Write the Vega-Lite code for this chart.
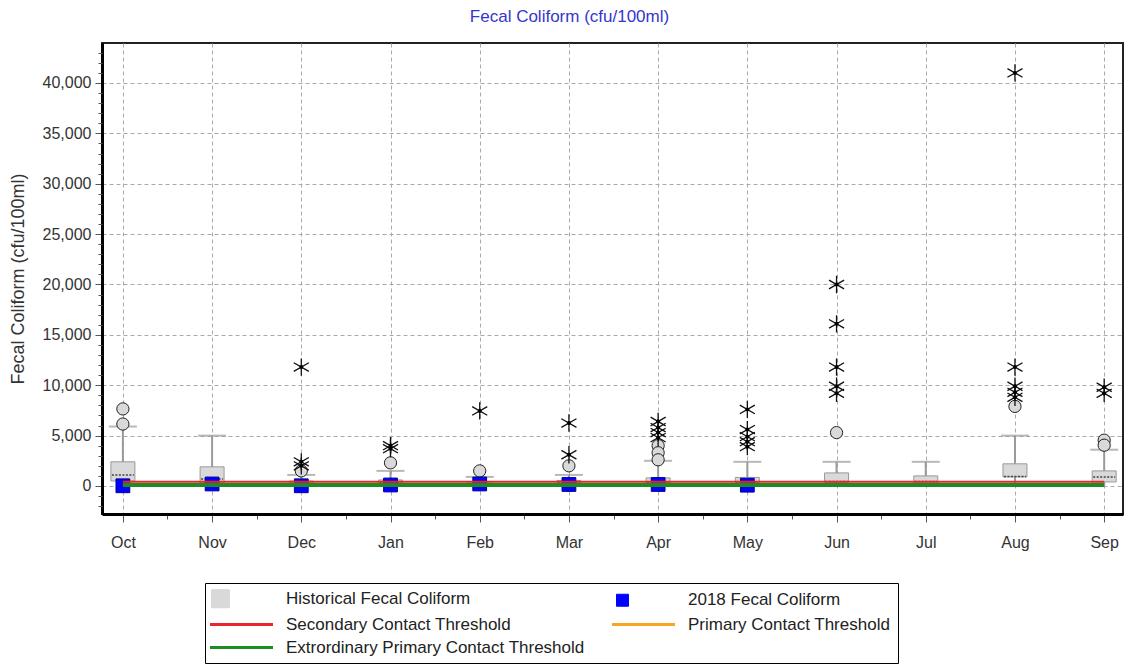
{
  "$schema": "https://vega.github.io/schema/vega-lite/v6.json",
  "width": 1021,
  "height": 471,
  "autosize": {"type": "none"},
  "padding": {"left": 102, "top": 43, "right": 14, "bottom": 152},
  "background": "white",
  "title": {"text": "Fecal Coliform (cfu/100ml)", "color": "#3535cf", "font": "Liberation Sans", "fontSize": 17, "fontWeight": "normal", "anchor": "middle", "dx": -43, "offset": 17},
  "config": {"view": {"stroke": "#222", "strokeWidth": 2}, "font": "Liberation Sans"},
  "resolve": {"axis": {"y": "independent"}},
  "datasets": {
    "boxes": [
      {"i": 0, "month": "Oct", "lw": 0, "q1": 500, "med": 1100, "q3": 2400, "uw": 5900},
      {"i": 1, "month": "Nov", "lw": 0, "q1": 300, "med": 700, "q3": 1900, "uw": 5000},
      {"i": 2, "month": "Dec", "lw": 0, "q1": 100, "med": 250, "q3": 500, "uw": 1100},
      {"i": 3, "month": "Jan", "lw": 0, "q1": 100, "med": 300, "q3": 600, "uw": 1500},
      {"i": 4, "month": "Feb", "lw": 0, "q1": 100, "med": 250, "q3": 450, "uw": 900},
      {"i": 5, "month": "Mar", "lw": 0, "q1": 100, "med": 300, "q3": 550, "uw": 1100},
      {"i": 6, "month": "Apr", "lw": 0, "q1": 150, "med": 350, "q3": 800, "uw": 2500},
      {"i": 7, "month": "May", "lw": 0, "q1": 150, "med": 350, "q3": 850, "uw": 2400},
      {"i": 8, "month": "Jun", "lw": 0, "q1": 350, "med": 450, "q3": 1300, "uw": 2400},
      {"i": 9, "month": "Jul", "lw": 0, "q1": 300, "med": 450, "q3": 1000, "uw": 2400},
      {"i": 10, "month": "Aug", "lw": 0, "q1": 900, "med": 950, "q3": 2200, "uw": 5000},
      {"i": 11, "month": "Sep", "lw": 0, "q1": 400, "med": 900, "q3": 1500, "uw": 3600}
    ],
    "mild": [
      {"i": 0, "value": 7650}, {"i": 0, "value": 6150},
      {"i": 2, "value": 1500},
      {"i": 3, "value": 2300},
      {"i": 4, "value": 1500},
      {"i": 5, "value": 2000},
      {"i": 6, "value": 4000}, {"i": 6, "value": 3300}, {"i": 6, "value": 2600},
      {"i": 8, "value": 5300},
      {"i": 10, "value": 7900},
      {"i": 11, "value": 4550}, {"i": 11, "value": 4050}
    ],
    "extreme": [
      {"i": 2, "value": 11800}, {"i": 2, "value": 2400}, {"i": 2, "value": 2000},
      {"i": 3, "value": 4000}, {"i": 3, "value": 3700},
      {"i": 4, "value": 7450},
      {"i": 5, "value": 6250}, {"i": 5, "value": 3100},
      {"i": 6, "value": 6400}, {"i": 6, "value": 5800}, {"i": 6, "value": 5300}, {"i": 6, "value": 4800},
      {"i": 7, "value": 7600}, {"i": 7, "value": 5600}, {"i": 7, "value": 4900}, {"i": 7, "value": 4400}, {"i": 7, "value": 3900},
      {"i": 8, "value": 20000}, {"i": 8, "value": 16100}, {"i": 8, "value": 11800}, {"i": 8, "value": 9900}, {"i": 8, "value": 9200},
      {"i": 10, "value": 41000}, {"i": 10, "value": 11800}, {"i": 10, "value": 9900}, {"i": 10, "value": 9300}, {"i": 10, "value": 8800},
      {"i": 11, "value": 9800}, {"i": 11, "value": 9200}
    ],
    "current": [
      {"i": 0, "value": 20}, {"i": 1, "value": 200}, {"i": 2, "value": 20}, {"i": 3, "value": 100},
      {"i": 4, "value": 200}, {"i": 5, "value": 150}, {"i": 6, "value": 150}, {"i": 7, "value": 80}
    ],
    "thresholds": [
      {"name": "Primary Contact Threshold", "value": 200, "start": 0, "end": 11},
      {"name": "Extrordinary Primary Contact Threshold", "value": 100, "start": 0, "end": 11},
      {"name": "Secondary Contact Threshold", "value": 420, "start": 0, "end": 11}
    ]
  },
  "layer": [
    {
      "data": {"name": "boxes"},
      "mark": {"type": "rule", "color": "#9a9a9a", "strokeWidth": 2},
      "encoding": {
        "x": {"field": "i", "type": "quantitative", "scale": {"domain": [-0.178, 11.155], "nice": false, "zero": false},
          "axis": {
            "values": [0,0.25,0.5,0.75,1,1.25,1.5,1.75,2,2.25,2.5,2.75,3,3.25,3.5,3.75,4,4.25,4.5,4.75,5,5.25,5.5,5.75,6,6.25,6.5,6.75,7,7.25,7.5,7.75,8,8.25,8.5,8.75,9,9.25,9.5,9.75,10,10.25,10.5,10.75,11],
            "labelExpr": "datum.value % 1 === 0 ? ['Oct','Nov','Dec','Jan','Feb','Mar','Apr','May','Jun','Jul','Aug','Sep'][datum.value] : ''",
            "labelOverlap": false, "labelFlush": false, "labelBound": false,
            "title": null,
            "domainColor": "#000", "domainWidth": 3,
            "tickColor": "#555",
            "tickSize": {"condition": {"test": "datum.value % 1 === 0", "value": 8}, "value": 5},
            "labelPadding": 12, "labelFontSize": 16, "labelColor": "#333", "labelFont": "Liberation Sans",
            "grid": true, "gridColor": "#aaaaaa", "gridDash": [4, 3],
            "gridOpacity": {"condition": {"test": "datum.value % 1 === 0", "value": 1}, "value": 0}
          }},
        "y": {"field": "lw", "type": "quantitative", "scale": {"domain": [-2780, 43970], "nice": false, "zero": false},
          "axis": {
            "orient": "left",
            "values": [0,5000,10000,15000,20000,25000,30000,35000,40000],
            "format": ",d",
            "labelOverlap": false, "labelFlush": false, "labelBound": false,
            "title": "Fecal Coliform (cfu/100ml)",
            "titleFont": "Liberation Sans", "titleFontSize": 18, "titleFontWeight": "normal", "titleColor": "#333",
            "titleX": -84, "titleY": 235.5, "titleAngle": -90, "titleAlign": "center", "titleBaseline": "middle",
            "domainColor": "#000", "domainWidth": 3,
            "tickColor": "#555", "tickSize": 7,
            "labelPadding": 4, "labelFontSize": 16, "labelColor": "#333", "labelFont": "Liberation Sans",
            "grid": true, "gridColor": "#aaaaaa", "gridDash": [4, 3]
          }},
        "y2": {"field": "uw"}
      }
    },
    {
      "data": {"name": "boxes"},
      "mark": {"type": "tick", "orient": "horizontal", "color": "#9a9a9a", "size": 28, "thickness": 2},
      "encoding": {
        "x": {"field": "i", "type": "quantitative"},
        "y": {"field": "uw", "type": "quantitative",
          "axis": {
            "orient": "left",
            "values": [-2000,-1000,1000,2000,3000,4000,6000,7000,8000,9000,11000,12000,13000,14000,16000,17000,18000,19000,21000,22000,23000,24000,26000,27000,28000,29000,31000,32000,33000,34000,36000,37000,38000,39000,41000,42000,43000],
            "labels": false, "grid": false, "domain": false, "title": null,
            "tickColor": "#555", "tickSize": 4
          }}
      }
    },
    {
      "data": {"name": "boxes"},
      "mark": {"type": "bar", "orient": "vertical", "width": 24, "fill": "#d9d9d9", "stroke": "#999999", "strokeWidth": 1},
      "encoding": {
        "x": {"field": "i", "type": "quantitative"},
        "y": {"field": "q1", "type": "quantitative", "axis": null},
        "y2": {"field": "q3"}
      }
    },
    {
      "data": {"name": "boxes"},
      "mark": {"type": "point", "shape": "M-1,0H1", "size": 484, "filled": false, "stroke": "#444", "strokeWidth": 1.5, "strokeDash": [2, 1.5], "opacity": 1},
      "encoding": {
        "x": {"field": "i", "type": "quantitative"},
        "y": {"field": "med", "type": "quantitative", "axis": null}
      }
    },
    {
      "data": {"name": "mild"},
      "mark": {"type": "point", "shape": "circle", "size": 150, "filled": true, "fill": "#d9d9d9", "stroke": "#222", "strokeWidth": 1, "opacity": 1},
      "encoding": {
        "x": {"field": "i", "type": "quantitative"},
        "y": {"field": "value", "type": "quantitative", "axis": null}
      }
    },
    {
      "data": {"name": "extreme"},
      "mark": {"type": "point", "shape": "M0,-1V1M-0.87,-0.5L0.87,0.5M-0.87,0.5L0.87,-0.5", "size": 300, "filled": false, "stroke": "#111", "strokeWidth": 1.3, "opacity": 1},
      "encoding": {
        "x": {"field": "i", "type": "quantitative"},
        "y": {"field": "value", "type": "quantitative", "axis": null}
      }
    },
    {
      "data": {"name": "extreme"},
      "mark": {"type": "point", "shape": "circle", "size": 16, "filled": true, "fill": "#000", "stroke": null, "opacity": 1},
      "encoding": {
        "x": {"field": "i", "type": "quantitative"},
        "y": {"field": "value", "type": "quantitative", "axis": null}
      }
    },
    {
      "data": {"name": "current"},
      "mark": {"type": "square", "size": 190, "filled": true, "fill": "#0000ff", "stroke": "#00009a", "strokeWidth": 1, "opacity": 1},
      "encoding": {
        "x": {"field": "i", "type": "quantitative"},
        "y": {"field": "value", "type": "quantitative", "axis": null}
      }
    },
    {
      "data": {"name": "thresholds"},
      "mark": {"type": "rule"},
      "encoding": {
        "x": {"field": "start", "type": "quantitative"},
        "x2": {"field": "end"},
        "y": {"field": "value", "type": "quantitative", "axis": null},
        "strokeWidth": {"condition": {"test": "datum.name === 'Extrordinary Primary Contact Threshold'", "value": 4}, "value": 2},
        "color": {"field": "name", "type": "nominal",
          "scale": {"domain": ["Historical Fecal Coliform", "2018 Fecal Coliform", "Secondary Contact Threshold", "Primary Contact Threshold", "Extrordinary Primary Contact Threshold"],
                    "range": ["#d9d9d9", "#0000ff", "#e8262b", "#f5a623", "#1e8c1e"]},
          "legend": {
            "orient": "none", "legendX": 103, "legendY": 540, "columns": 2, "direction": "horizontal", "title": null,
            "symbolType": "M-1,0H5", "symbolSize": 441, "symbolStrokeWidth": 3,
            "labelFont": "Liberation Sans", "labelFontSize": 17, "labelColor": "#222", "labelOffset": 57, "labelLimit": 800,
            "columnPadding": 21, "rowPadding": 5, "padding": 7,
            "strokeColor": "#000", "fillColor": "#fff",
            "encode": {
              "symbols": {
                "update": {
                  "shape": {"signal": "datum.value === 'Historical Fecal Coliform' ? 'M-0.86,-0.86H0.86V0.86H-0.86Z' : datum.value === '2018 Fecal Coliform' ? 'M-0.57,-0.57H0.57V0.57H-0.57Z' : 'M-1,0H5'"},
                  "fill": {"signal": "datum.value === 'Historical Fecal Coliform' ? '#d9d9d9' : datum.value === '2018 Fecal Coliform' ? '#0000ff' : 'transparent'"},
                  "stroke": {"signal": "datum.value === 'Historical Fecal Coliform' ? '#9a9a9a' : datum.value === '2018 Fecal Coliform' ? '#0000ff' : scale('color', datum.value)"},
                  "strokeWidth": {"signal": "datum.value === 'Historical Fecal Coliform' || datum.value === '2018 Fecal Coliform' ? 1 : 3"},
                  "opacity": {"value": 1}
                }
              }
            }
          }}
      }
    }
  ]
}
